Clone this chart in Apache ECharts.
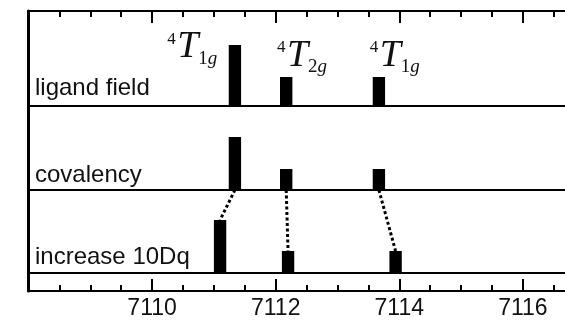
<!DOCTYPE html>
<html>
<head>
<meta charset="utf-8">
<script src="https://cdn.jsdelivr.net/npm/echarts@6/dist/echarts.min.js"></script>
<style>
  html, body { margin: 0; padding: 0; background: #fff; overflow: hidden; }
  #wrap { width: 565px; height: 320px; overflow: hidden; }
  #chart { width: 660px; height: 320px; }
</style>
</head>
<body>
<div id="wrap"><div id="chart"></div></div>
<script>
// Pre-edge transitions (eV) and relative intensities for three models
const xTicks = [7108, 7110, 7112, 7114, 7116, 7118];
const panelNames = ['ligand field', 'covalency', 'increase 10Dq'];
const termSubs = ['1g', '2g', '1g'];

const ligandPos = [7111.34, 7112.17, 7113.67];
const ligandInt = [61, 29, 29];
const covalencyPos = [7111.34, 7112.17, 7113.67];
const covalencyInt = [53, 21, 21];
const dqPos = [7111.10, 7112.20, 7113.94];
const dqInt = [53, 22, 22];

const barWidthEv = 0.2;

// layout: the energy window runs past the right edge of the visible area
const xMin = xTicks[0], xMax = xTicks[xTicks.length - 1];
const tickStep = xTicks[1] - xTicks[0];
const LEFT = 28.5, PX_PER_EV = 61.8;
const WIDTH = (xMax - xMin) * PX_PER_EV;
const panels = [
  { top: 11, h: 95, labelLift: 9.3 },
  { top: 106, h: 84, labelLift: 6 },
  { top: 190, h: 83, labelLift: 7 }
];
const strip = { top: 273, h: 19 };
const INK = '#000';
const SANS = '"Liberation Sans", Arial, sans-serif';
const SERIF = '"Liberation Serif", "Times New Roman", serif';

function grid(top, h) {
  return { left: LEFT, top: top, width: WIDTH, height: h, containLabel: false };
}
function lineOnlyX(gridIndex, position) {
  return {
    type: 'value', gridIndex: gridIndex, position: position,
    min: xMin, max: xMax, interval: tickStep,
    axisLine: { show: true, onZero: false, lineStyle: { color: INK, width: 2 } },
    axisTick: { show: false }, axisLabel: { show: false },
    splitLine: { show: false }
  };
}
function tickedX(gridIndex, position, labels) {
  return {
    type: 'value', gridIndex: gridIndex, position: position,
    min: xMin, max: xMax, interval: tickStep,
    axisLine: { show: true, onZero: false, lineStyle: { color: INK, width: 2 } },
    axisTick: { show: true, inside: true, length: 12, lineStyle: { color: INK, width: 2 } },
    minorTick: { show: true, splitNumber: 4, length: 6, lineStyle: { color: INK, width: 2 } },
    axisLabel: {
      show: labels, margin: 6, color: '#111',
      fontFamily: SANS, fontSize: 23,
      formatter: v => (v === xMin || v === xMax) ? '' : String(v)
    },
    splitLine: { show: false }
  };
}
function frameY(gridIndex, max) {
  return {
    type: 'value', gridIndex: gridIndex, min: 0, max: max,
    axisLine: { show: true, onZero: false, lineStyle: { color: INK, width: 3 } },
    axisTick: { show: false }, axisLabel: { show: false },
    splitLine: { show: false }
  };
}

function termLabel(ax, by, sub) {
  const el = (text, font, x, base, size) => ({
    type: 'text', x: x, y: base - 0.34 * size,
    style: { text: text, font: font, fill: '#111', align: 'left', verticalAlign: 'middle' }
  });
  return [
    el('4', '17px ' + SERIF, ax, by - 15, 17),
    el('T', 'italic 38px ' + SERIF, ax + 10, by, 38),
    el(sub[0], '19px ' + SERIF, ax + 31, by + 5, 19),
    el(sub[1], 'italic 19px ' + SERIF, ax + 40.5, by + 5, 19)
  ];
}

function barRenderer(withLabels) {
  return function (params, api) {
    const x = api.value(0), v = api.value(1);
    const p0 = api.coord([x - barWidthEv / 2, v]);
    const p1 = api.coord([x + barWidthEv / 2, 0]);
    const children = [{
      type: 'rect',
      shape: { x: p0[0], y: p0[1], width: p1[0] - p0[0], height: p1[1] - p0[1] },
      style: { fill: INK }
    }];
    if (withLabels) {
      const i = params.dataIndex;
      const sub = termSubs[i];
      if (i === 0) {
        children.push(...termLabel(p0[0] - 61.5, p0[1] + 15, sub));
      } else {
        children.push(...termLabel(p0[0] - 3, p0[1] - 8.5, sub));
      }
    }
    return { type: 'group', children: children };
  };
}

const chart = echarts.init(document.getElementById('chart'), null, { renderer: 'canvas' });

const option = {
  animation: false,
  backgroundColor: '#fff',
  grid: [
    grid(panels[0].top, panels[0].h),
    grid(panels[1].top, panels[1].h),
    grid(panels[2].top, panels[2].h),
    grid(strip.top, strip.h)
  ],
  xAxis: [
    tickedX(0, 'top', false),
    lineOnlyX(0, 'bottom'),
    lineOnlyX(1, 'bottom'),
    lineOnlyX(2, 'bottom'),
    tickedX(3, 'bottom', true)
  ],
  yAxis: [
    frameY(0, panels[0].h),
    frameY(1, panels[1].h),
    frameY(2, panels[2].h),
    frameY(3, 1)
  ],
  graphic: panelNames.map((name, i) => ({
    type: 'text',
    x: 35,
    y: panels[i].top + panels[i].h - panels[i].labelLift - 0.34 * 24,
    z: 10,
    style: { text: name, font: '24px ' + SANS, fill: '#111', verticalAlign: 'middle' }
  })),
  series: [
    {
      type: 'custom', name: panelNames[0], xAxisIndex: 1, yAxisIndex: 0, clip: false,
      data: ligandPos.map((p, i) => [p, ligandInt[i]]),
      renderItem: barRenderer(true)
    },
    {
      type: 'custom', name: panelNames[1], xAxisIndex: 2, yAxisIndex: 1, clip: false,
      data: covalencyPos.map((p, i) => [p, covalencyInt[i]]),
      renderItem: barRenderer(false)
    },
    {
      type: 'custom', name: panelNames[2], xAxisIndex: 3, yAxisIndex: 2, clip: false,
      data: dqPos.map((p, i) => [p, dqInt[i]]),
      renderItem: barRenderer(false)
    },
    {
      // dotted shifts from the covalency lines to the 10Dq lines
      type: 'custom', name: 'shift', xAxisIndex: 3, yAxisIndex: 2, clip: false,
      data: covalencyPos.map((p, i) => [p, dqPos[i], dqInt[i]]),
      renderItem: function (params, api) {
        const a = api.coord([api.value(0), panels[2].h]);
        const b = api.coord([api.value(1), api.value(2)]);
        return {
          type: 'line',
          shape: { x1: a[0], y1: a[1], x2: b[0], y2: b[1] },
          style: { stroke: INK, lineWidth: 3, lineDash: [3, 2.5] }
        };
      }
    }
  ]
};
chart.setOption(option);
</script>
</body>
</html>
